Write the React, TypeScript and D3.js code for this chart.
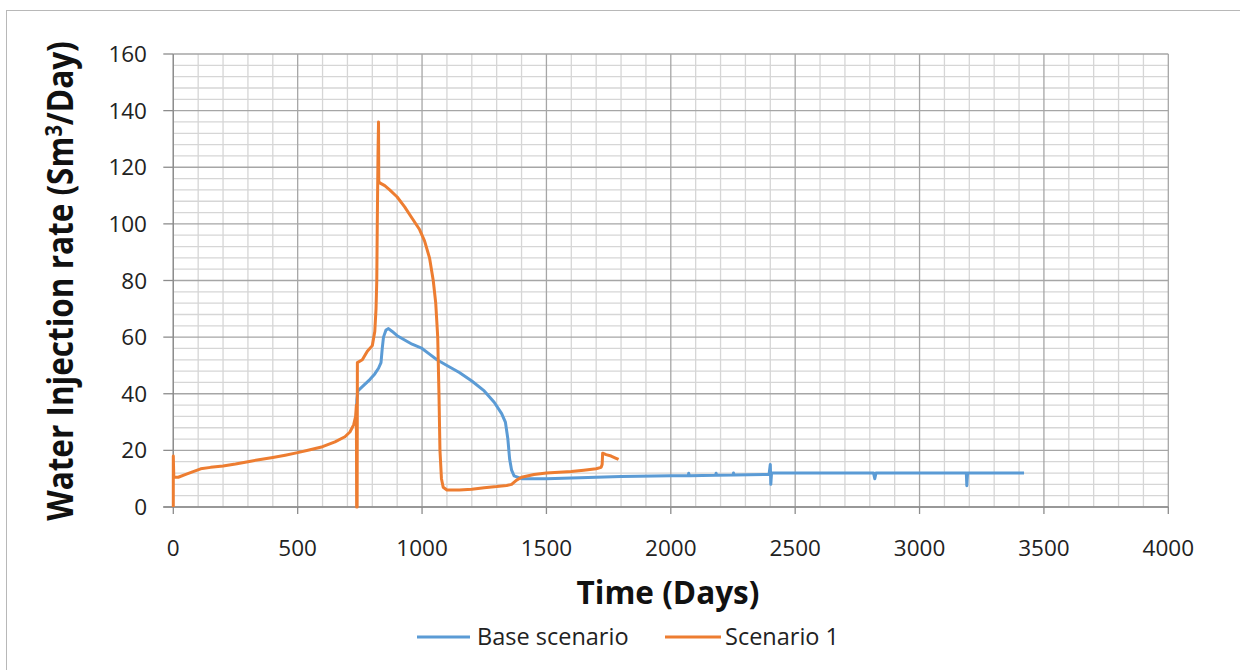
import { scaleLinear, line, range } from 'd3'

// Base scenario (blue)
const baseDays = [735, 738, 742, 760, 790, 810, 825, 835, 840, 845, 855, 865, 880, 900, 930, 960, 1000, 1030, 1060, 1100, 1150, 1200, 1250, 1290, 1320, 1335, 1345, 1352, 1360, 1370, 1400, 1500, 1600, 1700, 1800, 2000, 2070, 2072, 2075, 2180, 2182, 2185, 2250, 2252, 2255, 2395, 2400, 2402, 2405, 2500, 2815, 2820, 2825, 3000, 3188, 3190, 3193, 3420]
const baseRate = [30, 38, 41, 42.5, 45, 47, 49, 51, 56, 60, 62.5, 63, 62, 60.5, 59, 57.5, 56, 54, 52, 50, 47.5, 44.5, 41, 37, 33, 30, 24, 17, 13, 11, 10, 10, 10.2, 10.5, 10.8, 11, 11, 11.9, 11, 11.2, 11.9, 11.2, 11.3, 12, 11.3, 11.5, 15, 8, 12, 12, 12, 10, 12, 12, 12, 7.5, 12, 12]

// Scenario 1 (orange)
const sc1Days = [0, 0, 2, 20, 50, 80, 110, 150, 200, 250, 300, 350, 400, 450, 500, 550, 600, 650, 690, 710, 725, 733, 736, 737, 739, 740, 760, 780, 800, 810, 815, 818, 820, 823, 825, 826, 830, 850, 870, 900, 930, 960, 990, 1010, 1030, 1045, 1055, 1063, 1068, 1072, 1078, 1085, 1100, 1150, 1200, 1250, 1300, 1340, 1360, 1380, 1400, 1450, 1500, 1550, 1600, 1650, 1700, 1720, 1724, 1726, 1740, 1760, 1780, 1790]
const sc1Rate = [0, 18, 10.5, 10.5, 11.5, 12.5, 13.5, 14, 14.5, 15.2, 16, 16.8, 17.5, 18.3, 19.2, 20.2, 21.3, 23, 24.8, 26.5, 29, 32, 36, 0, 0, 51, 52, 55, 57, 62, 70, 80, 100, 125, 136, 115, 114.5, 113.5, 112, 109.5, 106, 102, 98, 94, 88, 80, 72, 60, 40, 20, 10, 7, 6, 6, 6.3, 6.8, 7.2, 7.6, 8, 9.5, 10.5, 11.5, 12, 12.3, 12.5, 13, 13.5, 14, 15, 19, 18.5, 18, 17.2, 16.8]

const xTicks = [0, 500, 1000, 1500, 2000, 2500, 3000, 3500, 4000]
const yTicks = [0, 20, 40, 60, 80, 100, 120, 140, 160]

const seriesNames = ['Base scenario', 'Scenario 1']
const seriesColors = ['#5b9bd5', '#ed7d31']

const font = '"Open Sans", "Liberation Sans", sans-serif'

const App = () => {
  const width = 1240
  const height = 670

  const x = scaleLinear().domain([0, 4000]).range([173.3, 1168.3])
  const y = scaleLinear().domain([0, 160]).range([507, 54])

  const lineGen = line<[number, number]>()
    .x((d) => x(d[0]))
    .y((d) => y(d[1]))

  const basePts = baseDays.map((d, i) => [d, baseRate[i]] as [number, number])
  const sc1Pts = sc1Days.map((d, i) => [d, sc1Rate[i]] as [number, number])

  const minorX = range(0, 4001, 100).filter((v) => v % 500 !== 0)
  const minorY = range(0, 161, 4).filter((v) => v % 20 !== 0)

  return (
    <svg
      width={width}
      height={height}
      style={{ position: 'absolute', left: 0, top: 0, background: '#fff' }}
    >
      <rect x={6.5} y={10.5} width={1300} height={700} fill="#fff" stroke="#b8b8b8" />

      {/* minor grid */}
      {minorX.map((v) => (
        <line key={'mx' + v} x1={x(v)} x2={x(v)} y1={y(0)} y2={y(160)} stroke="#d6d6d6" strokeWidth={1.3} />
      ))}
      {minorY.map((v) => (
        <line key={'my' + v} x1={x(0)} x2={x(4000)} y1={y(v)} y2={y(v)} stroke="#d6d6d6" strokeWidth={1.3} />
      ))}
      {/* major grid */}
      {xTicks.map((v) => (
        <line key={'Mx' + v} x1={x(v)} x2={x(v)} y1={y(0)} y2={y(160)} stroke="#a6a6a6" strokeWidth={1.3} />
      ))}
      {yTicks.map((v) => (
        <line key={'My' + v} x1={x(0)} x2={x(4000)} y1={y(v)} y2={y(v)} stroke="#a6a6a6" strokeWidth={1.3} />
      ))}

      {/* axes + tick marks */}
      <line x1={x(0)} x2={x(0)} y1={y(0)} y2={y(160)} stroke="#8c8c8c" strokeWidth={1.3} />
      <line x1={x(0) - 10} x2={x(4000)} y1={y(0)} y2={y(0)} stroke="#8c8c8c" strokeWidth={1.3} />
      {yTicks.map((v) => (
        <line key={'yt' + v} x1={x(0) - 10} x2={x(0)} y1={y(v)} y2={y(v)} stroke="#8c8c8c" strokeWidth={1.3} />
      ))}
      {xTicks.map((v) => (
        <line key={'xt' + v} x1={x(v)} x2={x(v)} y1={y(0)} y2={y(0) + 7} stroke="#8c8c8c" strokeWidth={1.3} />
      ))}

      {/* tick labels */}
      {yTicks.map((v) => (
        <text key={'yl' + v} x={147} y={y(v)} dy="0.36em" textAnchor="end" fontFamily={font} fontSize={22.5} fill="#222">
          {v}
        </text>
      ))}
      {xTicks.map((v) => (
        <text key={'xl' + v} x={x(v)} y={556} textAnchor="middle" fontFamily={font} fontSize={22.5} fill="#222">
          {v}
        </text>
      ))}

      {/* series */}
      <path d={lineGen(basePts) ?? ''} fill="none" stroke={seriesColors[0]} strokeWidth={3} strokeLinejoin="round" />
      <path d={lineGen(sc1Pts) ?? ''} fill="none" stroke={seriesColors[1]} strokeWidth={3} strokeLinejoin="round" />

      {/* axis titles */}
      <text x={668} y={604} textAnchor="middle" fontFamily={font} fontSize={31.5} fontWeight="bold" fill="#111">
        Time (Days)
      </text>
      <text
        transform="translate(73,281) rotate(-90) scale(1,1.12)"
        textAnchor="middle"
        fontFamily={font}
        fontSize={31.5}
        fontWeight="bold"
        fill="#111"
      >
        Water Injection rate (Sm<tspan dy="-10" fontSize={20}>3</tspan><tspan dy="10">/Day)</tspan>
      </text>

      {/* legend */}
      <line x1={417} x2={470} y1={637} y2={637} stroke={seriesColors[0]} strokeWidth={3} />
      <text x={477} y={645} fontFamily={font} fontSize={23.5} fill="#222">
        {seriesNames[0]}
      </text>
      <line x1={665} x2={721} y1={637} y2={637} stroke={seriesColors[1]} strokeWidth={3} />
      <text x={725} y={645} fontFamily={font} fontSize={23.5} fill="#222">
        {seriesNames[1]}
      </text>
    </svg>
  )
}

export default App
